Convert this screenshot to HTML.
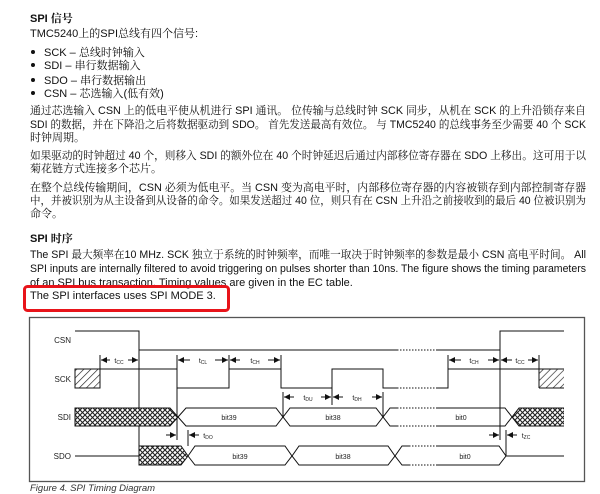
<!DOCTYPE html>
<html><head><meta charset="utf-8"><style>
html,body{margin:0;padding:0;background:#fff;width:600px;height:494px;overflow:hidden;position:relative}
svg{position:absolute;left:0;top:0}
</style></head><body>
<svg width="600" height="494" viewBox="0 0 600 494" font-family="Liberation Sans, Noto Serif CJK SC, serif">
<g font-size="11" fill="#111">
<text x="30" y="22" font-weight="bold">SPI 信号</text>
<text x="30" y="37">TMC5240上的SPI总线有四个信号:</text>
<circle cx="33" cy="52" r="2" fill="#111"/><text x="44" y="56">SCK – 总线时钟输入</text>
<circle cx="33" cy="65" r="2" fill="#111"/><text x="44" y="69">SDI – 串行数据输入</text>
<circle cx="33" cy="80" r="2" fill="#111"/><text x="44" y="84">SDO – 串行数据输出</text>
<circle cx="33" cy="93" r="2" fill="#111"/><text x="44" y="97">CSN – 芯选输入(低有效)</text>
<text x="30" y="114" textLength="556" lengthAdjust="spacingAndGlyphs">通过芯选输入 CSN 上的低电平使从机进行 SPI 通讯。 位传输与总线时钟 SCK 同步，从机在 SCK 的上升沿锁存来自</text>
<text x="30" y="128" textLength="556" lengthAdjust="spacingAndGlyphs">SDI 的数据，并在下降沿之后将数据驱动到 SDO。 首先发送最高有效位。 与 TMC5240 的总线事务至少需要 40 个 SCK</text>
<text x="30" y="141">时钟周期。</text>
<text x="30" y="159" textLength="556" lengthAdjust="spacingAndGlyphs">如果驱动的时钟超过 40 个，则移入 SDI 的额外位在 40 个时钟延迟后通过内部移位寄存器在 SDO 上移出。这可用于以</text>
<text x="30" y="172">菊花链方式连接多个芯片。</text>
<text x="30" y="191" textLength="556" lengthAdjust="spacingAndGlyphs">在整个总线传输期间，CSN 必须为低电平。当 CSN 变为高电平时，内部移位寄存器的内容被锁存到内部控制寄存器</text>
<text x="30" y="204" textLength="556" lengthAdjust="spacingAndGlyphs">中，并被识别为从主设备到从设备的命令。如果发送超过 40 位，则只有在 CSN 上升沿之前接收到的最后 40 位被识别为</text>
<text x="30" y="217">命令。</text>
<text x="30" y="242" font-weight="bold">SPI 时序</text>
<text x="30" y="258" textLength="556" lengthAdjust="spacingAndGlyphs">The SPI 最大频率在10 MHz. SCK 独立于系统的时钟频率，而唯一取决于时钟频率的参数是最小 CSN 高电平时间。 All</text>
<text x="30" y="272" textLength="556" lengthAdjust="spacingAndGlyphs">SPI inputs are internally filtered to avoid triggering on pulses shorter than 10ns. The figure shows the timing parameters</text>
<text x="30" y="286">of an SPI bus transaction. Timing values are given in the EC table.</text>
<text x="30" y="299">The SPI interfaces uses SPI MODE 3.</text>
</g>
<rect x="24.5" y="286.5" width="204" height="24" rx="3" fill="none" stroke="#e8141a" stroke-width="3"/>
<defs>
<pattern id="x" width="5" height="5" patternUnits="userSpaceOnUse"><rect width="5" height="5" fill="#fff"/><path d="M0,0L5,5M5,0L0,5" stroke="#222" stroke-width="1.1"/></pattern>
<pattern id="h" width="5" height="5" patternUnits="userSpaceOnUse" patternTransform="rotate(45)"><rect width="5" height="5" fill="#fff"/><line x1="0" y1="0" x2="0" y2="5" stroke="#222" stroke-width="1.3"/></pattern>
<marker id="a" markerWidth="6" markerHeight="6" refX="6" refY="3" orient="auto"><path d="M0,0L6,3L0,6z" fill="#111"/></marker>
</defs>
<rect x="29.5" y="317.5" width="555" height="164" fill="none" stroke="#555" stroke-width="1.3"/>
<g font-size="8" fill="#222" text-anchor="end" font-family="Liberation Sans, sans-serif">
<text x="71" y="343">CSN</text><text x="71" y="382">SCK</text><text x="71" y="420">SDI</text><text x="71" y="459">SDO</text></g>
<g stroke="#111" stroke-width="1" fill="none">
<path d="M75,331H139V350H397"/><path d="M437,350H500V331H564"/>
<path d="M397,350H437" stroke-dasharray="1.5,1.5"/>
<path d="M139,331V462"/><path d="M500,331V440"/>
<rect x="75" y="369" width="25" height="19" fill="url(#h)"/>
<path d="M100,369H177V388H229V369H281V388H332V369H383V388H397"/>
<path d="M397,388H437" stroke-dasharray="1.5,1.5"/>
<path d="M437,388H448V369H539"/>
<rect x="539" y="369" width="25" height="19" fill="url(#h)" stroke="none"/>
<path d="M539,369H564M539,388H564M539,369V388"/>
<path d="M177,355V440"/><path d="M229,355V369"/><path d="M281,355V388"/><path d="M100,355V369"/>
<path d="M448,355V369"/><path d="M539,355V369"/>
<path d="M332,388V405"/><path d="M283,392V417"/><path d="M383,392V417"/>
<path d="M75,408H170L178,417L170,426H75Z" fill="url(#x)"/>
<path d="M178,417L186,408H276L283,417L290,408H376L383,417L390,408H397"/>
<path d="M178,417L186,426H276L283,417L290,426H376L383,417L390,426H397"/>
<path d="M397,408H437M397,426H437" stroke-dasharray="1.5,1.5"/>
<path d="M437,408H505L512,417L505,426H437"/>
<path d="M512,417L519,408H564V426H519Z" fill="url(#x)" stroke="none"/>
<path d="M512,417L519,408H564M512,417L519,426H564"/>
<path d="M75,456H139"/>
<path d="M139,446H181L188,456L181,465H139Z" fill="url(#x)"/>
<path d="M188,456L195,446H285L292,456L299,446H388L395,456L402,446H409"/>
<path d="M188,456L195,465H285L292,456L299,465H388L395,456L402,465H409"/>
<path d="M409,446H437M409,465H437" stroke-dasharray="1.5,1.5"/>
<path d="M437,446H499L506,456L499,465H437"/>
<path d="M506,456H564"/>
<path d="M188,430V446"/><path d="M506,430V456"/>
<g marker-end="url(#a)">
<path d="M110,360H101"/><path d="M128,360H138"/>
<path d="M190,360H178"/><path d="M215,360H228"/>
<path d="M240,360H230"/><path d="M268,360H280"/>
<path d="M294,397H284"/><path d="M321,397H331"/>
<path d="M343,397H333"/><path d="M372,397H382"/>
<path d="M461,360H449"/><path d="M488,360H499"/>
<path d="M512,360H501"/><path d="M528,360H538"/>
<path d="M166,435H176"/><path d="M199,435H189"/>
<path d="M489,435H499"/><path d="M517,435H507"/>
</g>
</g>
<g font-size="7" fill="#222" text-anchor="middle" font-family="Liberation Sans, sans-serif">
<text x="119" y="363">t<tspan font-size="5" dy="1">CC</tspan></text>
<text x="203" y="363">t<tspan font-size="5" dy="1">CL</tspan></text>
<text x="255" y="363">t<tspan font-size="5" dy="1">CH</tspan></text>
<text x="308" y="400">t<tspan font-size="5" dy="1">DU</tspan></text>
<text x="357" y="400">t<tspan font-size="5" dy="1">DH</tspan></text>
<text x="474" y="363">t<tspan font-size="5" dy="1">CH</tspan></text>
<text x="520" y="363">t<tspan font-size="5" dy="1">CC</tspan></text>
<text x="208" y="438">t<tspan font-size="5" dy="1">DO</tspan></text>
<text x="526" y="438">t<tspan font-size="5" dy="1">ZC</tspan></text>
<text x="229" y="420">bit39</text><text x="333" y="420">bit38</text><text x="461" y="420">bit0</text>
<text x="240" y="459">bit39</text><text x="343" y="459">bit38</text><text x="465" y="459">bit0</text>
</g>
<text x="30" y="491" font-size="9.5" font-style="italic" fill="#333" font-family="Liberation Sans, sans-serif">Figure 4. SPI Timing Diagram</text>
</svg>
</body></html>
